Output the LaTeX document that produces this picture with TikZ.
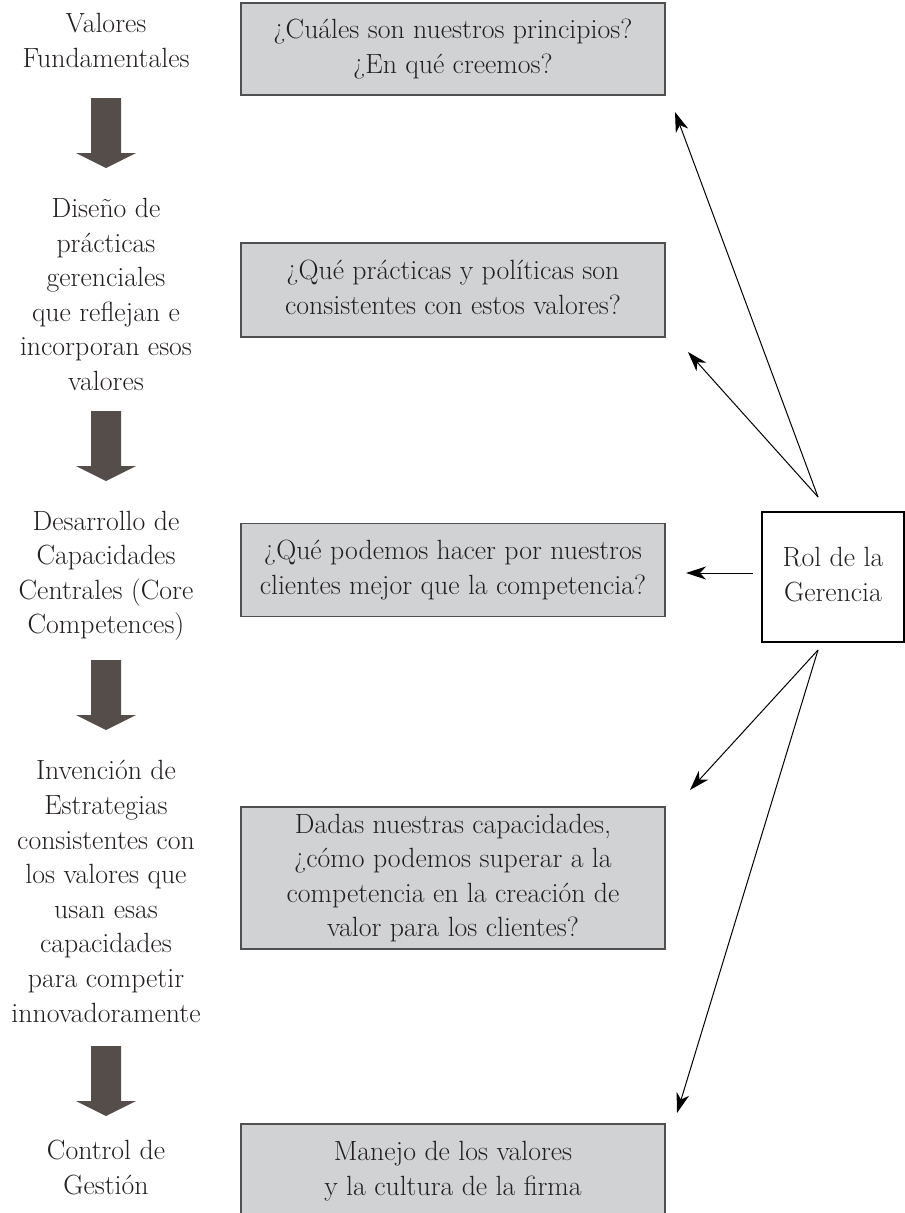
\documentclass[tikz,border=0pt]{standalone}
\usepackage{fontspec}
\usetikzlibrary{arrows.meta}
\definecolor{boxgray}{RGB}{209,210,212}
\definecolor{boxline}{RGB}{80,80,80}
\definecolor{arrowcol}{RGB}{85,77,74}
\definecolor{inkc}{RGB}{35,31,32}
\tikzset{
  txt/.style={align=center, inner sep=0pt, text=inkc, font=\fontsize{27.8}{34.6}\selectfont},
  qbox/.style={txt, draw=boxline, line width=1.3pt, fill=boxgray, minimum width=424pt},
  rolbox/.style={txt, draw=black, line width=1.1pt, fill=white, minimum width=142pt, minimum height=130pt},
  thin/.style={draw=black, line width=1pt, -{Stealth[length=20pt,width=13pt,inset=6pt]}},
  bigarrow/.pic={\fill[arrowcol] (-15,0) -- (15,0) -- (15,55) -- (30,55) -- (0,70) -- (-30,55) -- (-15,55) -- cycle;}
}
\newcommand{\st}{\strut}
\begin{document}
\begin{tikzpicture}[x=1pt,y=-1pt]
\useasboundingbox (0,0) rectangle (905,1213);
% left column
\node[txt] (t1) at (106,43) {\st Valores\\Fundamentales\st};
\node[txt] (t2) at (106,297) {\st Diseño de\\prácticas\\gerenciales\\que reflejan e\\incorporan esos\\valores\st};
\node[txt] (t3) at (106,575) {\st Desarrollo de\\Capacidades\\Centrales (Core\\Competences)\st};
\node[txt] (t4) at (106,894) {\st Invención de\\Estrategias\\consistentes con\\los valores que\\usan esas\\capacidades\\para competir\\innovadoramente\st};
\node[txt] (t5) at (106,1170) {\st Control de\\Gestión\st};
\pic at (106,98) {bigarrow};
\pic at (106,411) {bigarrow};
\pic at (106,660) {bigarrow};
\pic at (106,1046) {bigarrow};
% question boxes
\node[qbox, minimum height=92pt] (b1) at (453,49) {\st ¿Cuáles son nuestros principios?\\¿En qué creemos?\st};
\node[qbox, minimum height=94pt] (b2) at (453,290) {\st ¿Qué prácticas y políticas son\\consistentes con estos valores?\st};
\node[qbox, minimum height=93pt] (b3) at (453,570) {\st ¿Qué podemos hacer por nuestros\\clientes mejor que la competencia?\st};
\node[qbox, minimum height=142pt] (b4) at (453,878) {\st Dadas nuestras capacidades,\\¿cómo podemos superar a la\\competencia en la creación de\\valor para los clientes?\st};
\node[qbox, minimum height=94pt] (b5) at (453,1171) {\st Manejo de los valores\\y la cultura de la firma\st};
% role box
\node[rolbox] (rol) at (833,577) {\st Rol de la\\Gerencia\st};
% connector ends
\coordinate (rn) at (818,497);
\coordinate (rs) at (818,650);
\coordinate (rw) at (753,573);
\coordinate (e1) at (675,112);
\coordinate (e2) at (688,352);
\coordinate (e3) at (686,573);
\coordinate (e4) at (690,790);
\coordinate (e5) at (677,1113);
\draw[thin] (rn) -- (e1);
\draw[thin] (rn) -- (e2);
\draw[thin] (rw) -- (e3);
\draw[thin] (rs) -- (e4);
\draw[thin] (rs) -- (e5);
\end{tikzpicture}
\end{document}
